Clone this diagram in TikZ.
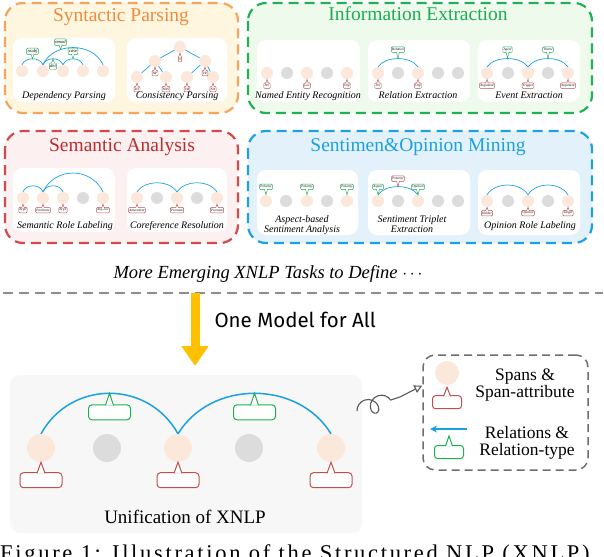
\documentclass[tikz,border=0pt]{standalone}
\usepackage{fontspec}
\setmainfont{Liberation Serif}
\newfontfamily\comicf{Fira Sans}
\newfontfamily\capf[LetterSpace=12]{Liberation Serif}
\usetikzlibrary{calc,arrows.meta,decorations.pathmorphing}

\definecolor{peach}{HTML}{FCE8DA}
\definecolor{dotgray}{HTML}{DCDCDC}
\definecolor{arcblue}{HTML}{1BA1E2}
\definecolor{lblred}{HTML}{C0504D}
\definecolor{lblgreen}{HTML}{1DB050}
\definecolor{orT}{HTML}{EF8B3D}
\definecolor{orB}{HTML}{F5A55C}
\definecolor{orF}{HTML}{FFF6E0}
\definecolor{grT}{HTML}{19AE53}
\definecolor{grB}{HTML}{22B055}
\definecolor{grF}{HTML}{EEFAEC}
\definecolor{rdT}{HTML}{BE2B30}
\definecolor{rdB}{HTML}{D24A4A}
\definecolor{rdF}{HTML}{FCF0F0}
\definecolor{blT}{HTML}{1CA0E0}
\definecolor{blB}{HTML}{1DA1E2}
\definecolor{blF}{HTML}{E3F2FA}
\definecolor{bggray}{HTML}{F7F7F7}
\definecolor{sepgray}{HTML}{8C8C8C}
\definecolor{leggray}{HTML}{6E6E6E}
\definecolor{yel}{HTML}{FFC000}

% label box below tip (pointer up)
\newcommand\labB[7]{%
 \node[#1,anchor=north] (#2) at ($(#3)+(0,#4)$) {#7};
 \draw[#1,sharp corners] ($(#2.north)+(-#5,#6)$) -- (#3) -- ($(#2.north)+(#5,#6)$);}
% label box above tip (pointer down)
\newcommand\labA[7]{%
 \node[#1,anchor=south] (#2) at ($(#3)+(0,-#4)$) {#7};
 \draw[#1,sharp corners] ($(#2.south)+(-#5,-#6)$) -- (#3) -- ($(#2.south)+(#5,-#6)$);}
% relation arc between two span nodes
\newcommand\rarc[6]{\draw[#1] (#2.north) .. controls +(#4,-#5) and +(-#4,-#5) .. (#3.north) coordinate[pos=0.5] (#6);}

\begin{document}
\begin{tikzpicture}[x=1pt,y=-1pt,
 span/.style={circle,fill=peach,minimum size=12pt,inner sep=0pt},
 gspan/.style={circle,fill=dotgray,minimum size=12pt,inner sep=0pt},
 bspan/.style={circle,fill=peach,minimum size=28pt,inner sep=0pt},
 bgspan/.style={circle,fill=dotgray,minimum size=28pt,inner sep=0pt},
 rel/.style={draw=arcblue,line width=0.7pt},
 brel/.style={draw=arcblue,line width=1.5pt},
 sl/.style={draw=#1,fill=white,rounded corners=1pt,line width=0.45pt,inner xsep=0.8pt,inner ysep=0.5pt,font=\fontsize{3.4}{3.6}\selectfont\itshape,minimum height=5.5pt},
 dpl/.style={sl=lblgreen,font=\fontsize{4.6}{5}\selectfont\itshape,minimum height=6.5pt},
 bl/.style={draw=#1,fill=white,rounded corners=3.5pt,line width=1pt,minimum width=42pt,minimum height=15pt,inner sep=0pt},
 ll/.style={draw=#1,fill=white,rounded corners=3pt,line width=1pt,minimum width=29pt,minimum height=13pt,inner sep=0pt},
 boxcap/.style={font=\fontsize{10}{10}\selectfont\itshape,anchor=base},
 ttl/.style={font=\fontsize{19.5}{20}\selectfont,anchor=base},
 ibox/.style={fill=white,rounded corners=9pt},
 panel/.style 2 args={draw=#1,fill=#2,line width=2.2pt,dash pattern=on 10pt off 6pt,rounded corners=18pt},
 legtxt/.style={font=\fontsize{17.5}{16.5}\selectfont,align=center}
]
\useasboundingbox (0,0) rectangle (604,556);
\clip (0,0) rectangle (604,556);

% ---------- panels ----------
\draw[panel={orB}{orF}] (5,3) rectangle (238,113);
\draw[panel={grB}{grF}] (248,3) rectangle (592,113);
\draw[panel={rdB}{rdF}] (5,131) rectangle (238,243);
\draw[panel={blB}{blF}] (248,131) rectangle (592,243);
\node[ttl,text=orT] (t1) at (121,22) {Syntactic Parsing};
\node[ttl,text=grT] (t2) at (418,21) {Information Extraction};
\node[ttl,text=rdT] (t3) at (122,152) {Semantic Analysis};
\node[ttl,text=blT] (t4) at (418,152) {Sentimen\&Opinion Mining};

% ---------- Dependency Parsing ----------
\fill[ibox] (13,38) rectangle (115,102);
\node[span] (dp1) at (22,71) {};
\node[span] (dp2) at (43,71) {};
\node[span] (dp3) at (63,71) {};
\node[span] (dp4) at (83,71) {};
\node[span] (dp5) at (103,71) {};
\rarc{rel}{dp1}{dp2}{3}{8}{da1}
\rarc{rel}{dp2}{dp3}{3}{8}{da2}
\rarc{rel}{dp3}{dp4}{3}{8}{da3}
\draw[rel] (dp2.north) .. controls +(10,-23) and +(-10,-23) .. (dp5.north) coordinate[pos=0.33] (da4);
\labA{dpl}{dl1}{da1}{4}{1.5}{0.6}{nsubj}
\labB{dpl}{dl2}{da2}{4}{1.5}{0.6}{det}
\labA{dpl}{dl3}{da3}{4}{1.5}{0.6}{case}
\labA{dpl}{dl4}{da4}{4}{1.5}{0.6}{nmod}
\node[boxcap] (dpc) at (64,99) {Dependency Parsing};

% ---------- Consistency Parsing ----------
\fill[ibox] (127,38) rectangle (227,102);
\node[span] (c0) at (180,47) {};
\node[span] (c1) at (155,61) {};
\node[span] (c2) at (205,61) {};
\node[span] (c3) at (137,77) {};
\node[span] (c4) at (166,77) {};
\node[span] (c5) at (187,77) {};
\node[span] (c6) at (213,77) {};
\draw[rel] (c0) -- (c1); \draw[rel] (c0) -- (c2);
\draw[rel] (c1) -- (c3); \draw[rel] (c1) -- (c4);
\draw[rel] (c2) -- (c5); \draw[rel] (c2) -- (c6);
\labB{sl=lblred}{cl0}{c0.south}{3}{1.3}{0.6}{S}
\labB{sl=lblred}{cl1}{c1.south}{3}{1.3}{0.6}{NP}
\labB{sl=lblred}{cl2}{c2.south}{3}{1.3}{0.6}{VP}
\labB{sl=lblred}{cl3}{c3.south}{3}{1.3}{0.6}{DT}
\labB{sl=lblred}{cl4}{c4.south}{3}{1.3}{0.6}{NNS}
\labB{sl=lblred}{cl5}{c5.south}{3}{1.3}{0.6}{VB}
\labB{sl=lblred}{cl6}{c6.south}{3}{1.3}{0.6}{NN}
\node[boxcap] (cpc) at (177,99) {Consistency Parsing};

% ---------- NER ----------
\fill[ibox] (257,40) rectangle (360,102);
\node[span]  (n1) at (267,73) {};
\node[gspan] (n2) at (287,73) {};
\node[span]  (n3) at (307,73) {};
\node[gspan] (n4) at (327,73) {};
\node[span]  (n5) at (347,73) {};
\labB{sl=lblred}{nl1}{n1.south}{3.5}{1.3}{0.6}{Per}
\labB{sl=lblred}{nl3}{n3.south}{3.5}{1.3}{0.6}{Loc}
\labB{sl=lblred}{nl5}{n5.south}{3.5}{1.3}{0.6}{Org}
\node[boxcap] (nerc) at (308,99) {Named Entity Recognition};

% ---------- Relation Extraction ----------
\fill[ibox] (368,40) rectangle (470,102);
\node[span]  (r1) at (378,73) {};
\node[gspan] (r2) at (398,73) {};
\node[span]  (r3) at (418,73) {};
\node[gspan] (r4) at (438,73) {};
\node[gspan] (r5) at (458,73) {};
\rarc{rel}{r1}{r3}{8}{11}{ra}
\labA{sl=lblgreen}{rl}{ra}{6}{1.5}{0.6}{Relation}
\labB{sl=lblred}{rl1}{r1.south}{3.5}{1.3}{0.6}{Per}
\labB{sl=lblred}{rl3}{r3.south}{3.5}{1.3}{0.6}{Org}
\node[boxcap] (rec) at (418,99) {Relation Extraction};

% ---------- Event Extraction ----------
\fill[ibox] (478,40) rectangle (580,102);
\node[span]  (e1) at (487,73) {};
\node[gspan] (e2) at (508,73) {};
\node[span]  (e3) at (528,73) {};
\node[gspan] (e4) at (548,73) {};
\node[span]  (e5) at (568,73) {};
\rarc{rel}{e1}{e3}{8}{11}{ea1}
\rarc{rel}{e3}{e5}{8}{11}{ea2}
\labA{sl=lblgreen}{eg1}{ea1}{6}{1.5}{0.6}{Agent}
\labA{sl=lblgreen}{eg2}{ea2}{6}{1.5}{0.6}{Theme}
\labB{sl=lblred}{el1}{e1.south}{3.5}{1.3}{0.6}{Argument}
\labB{sl=lblred}{el3}{e3.south}{3.5}{1.3}{0.6}{Trigger}
\labB{sl=lblred}{el5}{e5.south}{3.5}{1.3}{0.6}{Argument}
\node[boxcap] (eec) at (529,99) {Event Extraction};

% ---------- Semantic Role Labeling ----------
\fill[ibox] (13,168) rectangle (115,232);
\node[span]  (s1) at (23,198) {};
\node[span]  (s2) at (43,198) {};
\node[span]  (s3) at (63,198) {};
\node[gspan] (s4) at (83,198) {};
\node[span]  (s5) at (103,198) {};
\rarc{rel}{s1}{s2}{3}{8}{sa1}
\rarc{rel}{s2}{s3}{3}{8}{sa2}
\rarc{rel}{s2}{s5}{12}{25}{sa3}
\labB{sl=lblred}{sl1}{s1.south}{3}{1.3}{0.6}{Arg0}
\labB{sl=lblred}{sl2}{s2.south}{3}{1.3}{0.6}{Predicate}
\labB{sl=lblred}{sl3}{s3.south}{3}{1.3}{0.6}{Arg1}
\labB{sl=lblred}{sl5}{s5.south}{3}{1.3}{0.6}{Arg-Loc}
\node[boxcap] (srlc) at (65,228) {Semantic Role Labeling};

% ---------- Coreference Resolution ----------
\fill[ibox] (127,168) rectangle (227,232);
\node[span]  (k1) at (137,198) {};
\node[gspan] (k2) at (157,198) {};
\node[span]  (k3) at (177,198) {};
\node[gspan] (k4) at (197,198) {};
\node[span]  (k5) at (217,198) {};
\rarc{rel}{k1}{k3}{8}{12}{ka1}
\rarc{rel}{k3}{k5}{8}{12}{ka2}
\labB{sl=lblred}{kl1}{k1.south}{3}{1.3}{0.6}{Antecedent}
\labB{sl=lblred}{kl3}{k3.south}{3}{1.3}{0.6}{Pronoun}
\labB{sl=lblred}{kl5}{k5.south}{3}{1.3}{0.6}{Pronoun}
\node[boxcap] (crc) at (177,228) {Coreference Resolution};

% ---------- ABSA ----------
\fill[ibox] (257,170) rectangle (358,235);
\node[span]  (b1) at (266,201) {};
\node[gspan] (b2) at (286,201) {};
\node[span]  (b3) at (307,201) {};
\node[gspan] (b4) at (327,201) {};
\node[span]  (b5) at (347,201) {};
\labA{sl=lblgreen}{bl1}{b1.north}{5}{1.5}{0.6}{Polarity}
\labA{sl=lblgreen}{bl3}{b3.north}{5}{1.5}{0.6}{Polarity}
\labA{sl=lblgreen}{bl5}{b5.north}{5}{1.5}{0.6}{Polarity}
\node[boxcap] (absac1) at (302,222) {Aspect-based};
\node[boxcap] (absac2) at (302,232) {Sentiment Analysis};

% ---------- Sentiment Triplet Extraction ----------
\fill[ibox] (368,170) rectangle (470,235);
\node[span]  (q1) at (378,201) {};
\node[gspan] (q2) at (398,201) {};
\node[span]  (q3) at (418,201) {};
\node[gspan] (q4) at (438,201) {};
\node[gspan] (q5) at (458,201) {};
\rarc{rel}{q1}{q3}{8}{11}{qa}
\labA{sl=lblgreen}{ql1}{q1.north}{5}{1.5}{0.6}{Aspect}
\labA{sl=lblgreen}{ql3}{q3.north}{5}{1.5}{0.6}{Opinion}
\labA{sl=lblred}{qlp}{qa}{5}{1.5}{0.6}{Polarity}
\node[boxcap] (stec1) at (412,222) {Sentiment Triplet};
\node[boxcap] (stec2) at (412,232) {Extraction};

% ---------- Opinion Role Labeling ----------
\fill[ibox] (478,170) rectangle (580,235);
\node[span]  (o1) at (487,201) {};
\node[gspan] (o2) at (508,201) {};
\node[span]  (o3) at (528,201) {};
\node[gspan] (o4) at (548,201) {};
\node[span]  (o5) at (568,201) {};
\rarc{rel}{o1}{o3}{8}{13}{oa1}
\rarc{rel}{o3}{o5}{8}{13}{oa2}
\labB{sl=lblred}{ol1}{o1.south}{3}{1.3}{0.6}{Holder}
\labB{sl=lblred}{ol3}{o3.south}{3}{1.3}{0.6}{Opinion}
\labB{sl=lblred}{ol5}{o5.south}{3}{1.3}{0.6}{Target}
\node[boxcap] (orlc) at (530,228) {Opinion Role Labeling};

% ---------- middle ----------
\node[font=\fontsize{18.5}{20}\selectfont\itshape,anchor=base] (more) at (268,278) {More Emerging XNLP Tasks to Define $\cdots$};
\coordinate (sp0) at (3,293);
\coordinate (sp1) at (603,293);
\draw[sepgray,line width=2pt,dash pattern=on 10pt off 6pt] (sp0) -- (sp1);
\coordinate (ya0) at (195,293);
\coordinate (ya1) at (195,366);
\draw[yel,line width=9pt,-{Triangle[length=20pt,width=26pt]}] (ya0) -- (ya1);
\node[font=\comicf\fontsize{20.5}{22}\selectfont,anchor=base west] (oma) at (211,327) {One Model for All};

% ---------- unification ----------
\fill[bggray,rounded corners=10pt] (10,375) rectangle (362,533);
\node[bspan]  (u1) at (41,448) {};
\node[bgspan] (u2) at (107,448) {};
\node[bspan]  (u3) at (178,448) {};
\node[bgspan] (u4) at (249,448) {};
\node[bspan]  (u5) at (331,448) {};
\rarc{brel}{u1}{u3}{30}{54}{ua}
\rarc{brel}{u3}{u5}{33}{54}{ub}
\labB{bl=lblgreen}{ug1}{ua}{11}{4}{1.1}{}
\labB{bl=lblgreen}{ug2}{ub}{11}{4}{1.1}{}
\labB{bl=lblred}{ur1}{u1.south}{10}{4}{1.1}{}
\labB{bl=lblred}{ur3}{u3.south}{10}{4}{1.1}{}
\labB{bl=lblred}{ur5}{u5.south}{10}{4}{1.1}{}
\node[font=\fontsize{19}{20}\selectfont,anchor=base] (unif) at (185,523) {Unification of XNLP};

% ---------- legend ----------
\node[draw=leggray,line width=1.5pt,dash pattern=on 8pt off 5pt,rounded corners=12pt,minimum width=165pt,minimum height=115pt,inner sep=0pt] (leg) at (505.5,412.5) {};
\node[bspan,minimum size=24pt] (lc) at (447,373) {};
\coordinate (lct) at ($(lc.south)+(0,2)$);
\labB{ll=lblred}{lr}{lct}{8}{3.5}{1.1}{}
\node[legtxt] (lt1) at (525,385) {Spans \&\\Span-attribute};
\coordinate (la0) at (467,429);
\coordinate (la1) at (430,429);
\draw[brel,-{Stealth[length=7pt,width=7pt]}] (la0) -- (la1);
\coordinate (lgt) at (449,436);
\labB{ll=lblgreen}{lg}{lgt}{9}{3.5}{1.1}{}
\node[legtxt] (lt2) at (527,443) {Relations \&\\Relation-type};

% squiggle arrow
\coordinate (sq0) at (357,411);
\coordinate (sq1) at (400,397);
\coordinate (legin) at ($(leg.west)+(0,-27)$);
\draw[leggray!80!black,line width=1.1pt,decorate,decoration={coil,amplitude=8pt,segment length=14pt,aspect=0.9}] (sq0) -- (sq1);
\draw[leggray!80!black,line width=1.1pt,-{Triangle[open,length=8pt,width=8pt]}] (sq1) -- (legin);

% caption (cut off at the bottom edge, as in the reference)
\node[font=\capf\fontsize{22.5}{24}\selectfont,anchor=base west,inner sep=0pt] (figcap) at (0,560) {Figure 1: Illustration of the Structured NLP (XNLP)};
\end{tikzpicture}
\end{document}
